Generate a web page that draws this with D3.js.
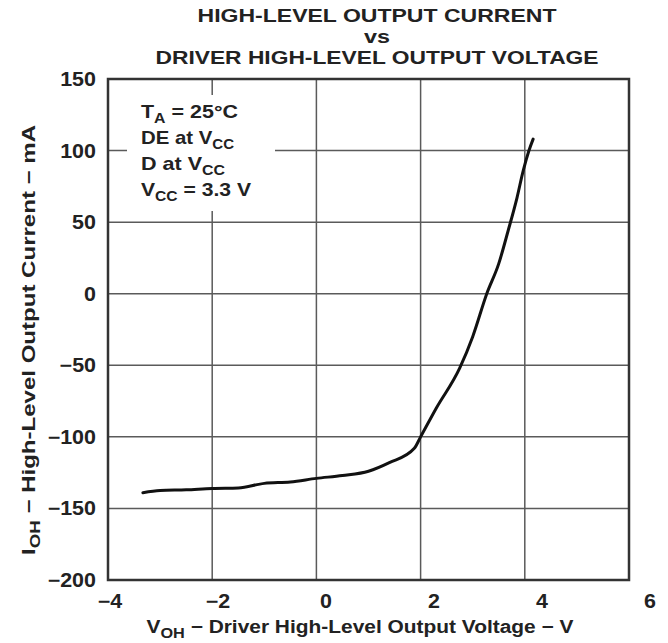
<!DOCTYPE html>
<html><head><meta charset="utf-8">
<script src="https://cdn.jsdelivr.net/npm/d3@7"></script>
<style>body{margin:0;background:#fff}svg{display:block}text{font-family:"Liberation Sans",Arial,sans-serif;font-weight:bold;fill:#222}</style>
</head><body>
<script>
const voltage = [-3.33,-3.0,-2.5,-2.0,-1.5,-1.0,-0.5,0,0.5,1.0,1.4,1.88,2.0,2.3,2.75,3.0,3.27,3.5,3.68,3.85,3.97,4.08,4.16];
const current = [-139,-137.5,-137,-136,-135.7,-132.5,-131.5,-129,-127,-124,-118,-108,-100,-80,-52,-30,0,21,44,67,86,100,108];
const xTicks = [-4,-2,0,2,4,6];
const yTicks = [150,100,50,0,-50,-100,-150,-200];
const titleLines = ["HIGH-LEVEL OUTPUT CURRENT","vs","DRIVER HIGH-LEVEL OUTPUT VOLTAGE"];

const W=668,H=643;
const svg=d3.select("body").append("svg").attr("width",W).attr("height",H);
const x=d3.scaleLinear().domain([-4,6]).range([108,629]);
const xLab=d3.scaleLinear().domain([-4,6]).range([110,650]);
const y=d3.scaleLinear().domain([-200,150]).range([580,79]);

function stretch(sel,f){sel.each(function(){const l=this.getComputedTextLength();d3.select(this).attr("textLength",l*f).attr("lengthAdjust","spacingAndGlyphs");});}
function fit(sel,w){sel.attr("textLength",w).attr("lengthAdjust","spacingAndGlyphs");}

// grid
const g=svg.append("g");
g.selectAll("line.v").data(xTicks.slice(1,-1)).join("line")
 .attr("x1",d=>x(d)).attr("x2",d=>x(d)).attr("y1",y(150)).attr("y2",y(-200))
 .attr("stroke","#5a5a5a").attr("stroke-width",1.5);
g.selectAll("line.h").data(yTicks.slice(1,-1)).join("line")
 .attr("x1",x(-4)).attr("x2",x(6)).attr("y1",d=>y(d)).attr("y2",d=>y(d))
 .attr("stroke","#5a5a5a").attr("stroke-width",1.5);
// annotation mask
svg.append("rect").attr("x",127).attr("y",95).attr("width",148).attr("height",116).attr("fill","#fff");
// border
svg.append("rect").attr("x",x(-4)).attr("y",y(150)).attr("width",x(6)-x(-4)).attr("height",y(-200)-y(150))
 .attr("fill","none").attr("stroke","#333").attr("stroke-width",2.5);

// curve
const pts=voltage.map((v,i)=>[v,current[i]]);
svg.append("path").datum(pts).attr("fill","none").attr("stroke","#111").attr("stroke-width",3)
 .attr("stroke-linejoin","round").attr("stroke-linecap","round")
 .attr("d",d3.line().x(d=>x(d[0])).y(d=>y(d[1])).curve(d3.curveMonotoneX));

// tick labels
svg.selectAll("text.yt").data(yTicks).join("text").attr("class","yt")
 .attr("x",96).attr("y",d=>y(d)+7).attr("text-anchor","end").attr("font-size",19.5)
 .text(d=>d<0?"\u2212"+Math.abs(d):d).call(stretch,1.1);
svg.selectAll("text.xt").data(xTicks).join("text").attr("class","xt")
 .attr("x",d=>xLab(d)).attr("y",608).attr("text-anchor","middle").attr("font-size",19.5)
 .text(d=>d<0?"\u2212"+Math.abs(d):d).call(stretch,1.1);

// title
const tw=[359,26,443];
svg.selectAll("text.tt").data(titleLines).join("text").attr("class","tt")
 .attr("x",377).attr("y",(d,i)=>22+i*21).attr("text-anchor","middle").attr("font-size",18)
 .text(d=>d).each(function(d,i){fit(d3.select(this),tw[i]);});

// annotation
const ann=[[["T",0],["A",1],[" = 25°C",2]],[["DE at V",0],["CC",1]],[["D at V",0],["CC",1]],[["V",0],["CC",1],[" = 3.3 V",2]]];
const annW=[97,93,84,110];
ann.forEach((line,i)=>{
  const t=svg.append("text").attr("x",141).attr("y",118+i*26).attr("font-size",19);
  line.forEach(([s,k])=>{
    const ts=t.append("tspan").text(s);
    if(k===1) ts.attr("font-size",14).attr("dy",5);
    if(k===2) ts.attr("dy",-5);
  });
  fit(t,annW[i]);
});

// x axis title
const xt=svg.append("text").attr("x",360).attr("y",633).attr("text-anchor","middle").attr("font-size",18);
xt.append("tspan").text("V");
xt.append("tspan").text("OH").attr("font-size",14).attr("dy",5);
xt.append("tspan").text(" \u2212 Driver High-Level Output Voltage \u2212 V").attr("dy",-5);
fit(xt,427);

// y axis title
const yt=svg.append("text").attr("transform","translate(35,340) rotate(-90)").attr("text-anchor","middle").attr("font-size",18);
yt.append("tspan").text("I");
yt.append("tspan").text("OH").attr("font-size",14).attr("dy",5);
yt.append("tspan").text(" \u2212 High-Level Output Current \u2212 mA").attr("dy",-5);
fit(yt,430);
</script>
</body></html>
